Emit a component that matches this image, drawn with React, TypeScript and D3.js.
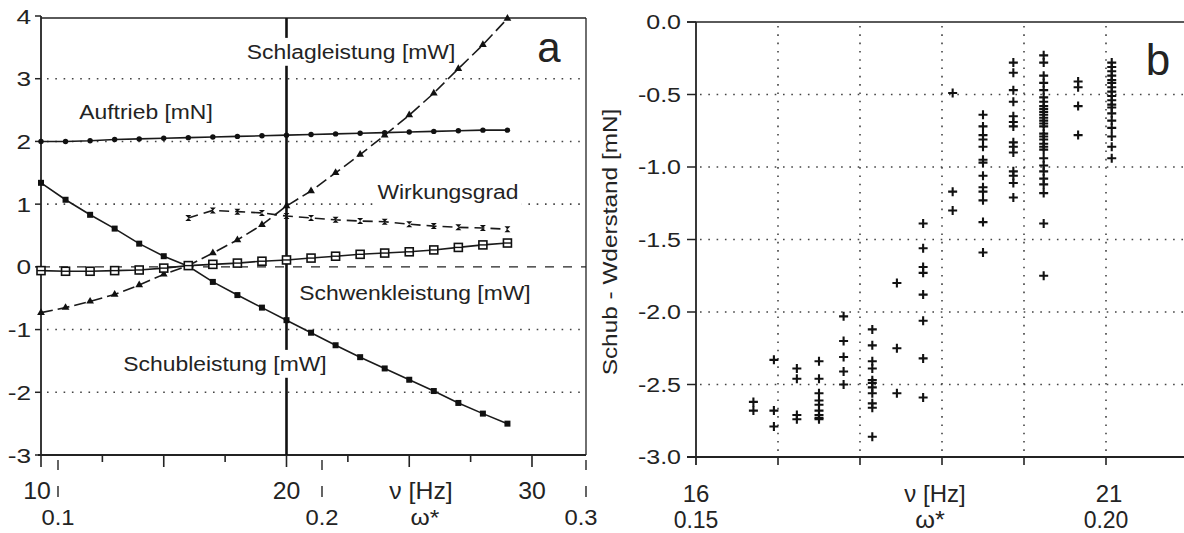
import { useEffect, useRef } from 'react';
import * as d3 from 'd3';

const W = 1184;
const H = 533;

// ---- panel a: values vs. frequency nu [Hz]
const freqA = [10, 11, 12, 13, 14, 15, 16, 17, 18, 19, 20, 21, 22, 23, 24, 25, 26, 27, 28, 29];
const auftrieb = [2.0, 2.0, 2.01, 2.03, 2.04, 2.05, 2.06, 2.07, 2.08, 2.09, 2.1, 2.11, 2.12, 2.13, 2.14, 2.15, 2.16, 2.17, 2.18, 2.18];
const schubleistung = [1.34, 1.07, 0.83, 0.61, 0.37, 0.17, 0.01, -0.24, -0.45, -0.65, -0.85, -1.05, -1.25, -1.44, -1.62, -1.8, -1.98, -2.17, -2.34, -2.5];
const schlagleistung = [-0.73, -0.65, -0.55, -0.44, -0.29, -0.12, 0.02, 0.22, 0.43, 0.67, 0.97, 1.21, 1.5, 1.79, 2.1, 2.42, 2.77, 3.16, 3.54, 3.96];
const schwenkleistung = [-0.06, -0.07, -0.07, -0.06, -0.05, -0.02, 0.02, 0.04, 0.06, 0.09, 0.11, 0.14, 0.17, 0.2, 0.22, 0.24, 0.27, 0.31, 0.35, 0.38];
const freqWirk = [16, 17, 18, 19, 20, 21, 22, 23, 24, 25, 26, 27, 28, 29];
const wirkungsgrad = [0.78, 0.9, 0.88, 0.86, 0.81, 0.78, 0.75, 0.73, 0.72, 0.68, 0.65, 0.63, 0.62, 0.6];

const yTicksA = [-3, -2, -1, 0, 1, 2, 3, 4];
const yGridA = [-2, -1, 1, 2, 3];
const nuMajorA = [10, 15, 20, 25, 30];
const nuMinorA = [12.5, 17.5, 22.5, 27.5];
const nuLabelsA = ['10', '20', '30'];
const omegaTicksA = [0.1, 0.2, 0.3];
const omegaLabelsA = ['0.1', '0.2', '0.3'];

// ---- panel b: Schub - Widerstand [mN], grouped by frequency
const freqB = [16.7, 16.95, 17.23, 17.5, 17.8, 18.15, 18.45, 18.77, 19.13, 19.5, 19.87, 20.24, 20.66, 21.07];
const schubB = [
  [-2.62, -2.68],
  [-2.33, -2.68, -2.79],
  [-2.39, -2.46, -2.71, -2.74],
  [-2.34, -2.46, -2.56, -2.61, -2.64, -2.68, -2.71, -2.73, -2.74],
  [-2.03, -2.2, -2.31, -2.41, -2.5],
  [-2.12, -2.23, -2.34, -2.39, -2.47, -2.49, -2.52, -2.56, -2.63, -2.66, -2.86],
  [-1.8, -2.25, -2.56],
  [-1.39, -1.56, -1.69, -1.73, -1.88, -2.06, -2.32, -2.59],
  [-0.49, -1.17, -1.3],
  [-0.64, -0.72, -0.78, -0.81, -0.86, -0.95, -0.97, -1.06, -1.14, -1.17, -1.23, -1.38, -1.59],
  [-0.28, -0.35, -0.47, -0.55, -0.65, -0.69, -0.72, -0.83, -0.86, -0.9, -1.03, -1.06, -1.11, -1.21],
  [-0.23, -0.28, -0.37, -0.42, -0.47, -0.52, -0.55, -0.58, -0.6, -0.62, -0.64, -0.66, -0.68, -0.7, -0.72,
    -0.77, -0.79, -0.81, -0.84, -0.86, -0.88, -0.94, -0.99, -1.03, -1.08, -1.12, -1.18, -1.39, -1.75],
  [-0.41, -0.45, -0.58, -0.78],
  [-0.28, -0.31, -0.34, -0.37, -0.4, -0.42, -0.45, -0.48, -0.51, -0.54, -0.57, -0.59, -0.63, -0.68, -0.73, -0.79, -0.86, -0.94],
];
const yTicksB = [0, -0.5, -1, -1.5, -2, -2.5, -3];
const xTicksB = [16, 17, 18, 19, 20, 21];

const INK = '#232323';
const FONT = '"Liberation Sans", Arial, sans-serif';

const App = () => {
  const svgRef = useRef<SVGSVGElement | null>(null);

  useEffect(() => {
    const svg = d3.select(svgRef.current);
    svg.selectAll('*').remove();
    svg.append('rect').attr('width', W).attr('height', H).attr('fill', '#fff');

    // text with a horizontal stretch (the scanned figure's lettering is wide)
    const txt = (g: any, x: number, y: number, s: string, size: number, anchor = 'middle', sx = 1, box = false) => {
      const t = g.append('g').attr('transform', `translate(${x},${y}) scale(${sx},1)`);
      const rect = box ? t.append('rect').attr('fill', '#fff') : null;
      const el = t.append('text')
        .attr('text-anchor', anchor)
        .attr('font-family', FONT)
        .attr('font-size', size)
        .attr('fill', INK)
        .text(s);
      if (rect) {
        const bb = el.node().getBBox();
        rect.attr('x', bb.x - 3).attr('y', bb.y - 2).attr('width', bb.width + 6).attr('height', bb.height + 4);
      }
      return el;
    };

    const dotted = '1.6,6.7';

    // ================= panel a =================
    const x = d3.scaleLinear().domain([10, 32.2]).range([41, 586]);
    const om = d3.scaleLinear().domain([0.1, 0.3]).range([58, 586]);
    const y = d3.scaleLinear().domain([-3, 4]).range([455, 16]);
    const a = svg.append('g');

    // grid
    a.selectAll('.ga').data(yGridA).enter().append('line')
      .attr('x1', x(10) + 6).attr('x2', 586).attr('y1', d => y(d)).attr('y2', d => y(d))
      .attr('stroke', '#444').attr('stroke-width', 1.6).attr('stroke-dasharray', dotted);
    a.append('line').attr('x1', x(10)).attr('x2', 586).attr('y1', y(0)).attr('y2', y(0))
      .attr('stroke', INK).attr('stroke-width', 1.3).attr('stroke-dasharray', '9,9');

    // frame
    a.append('line').attr('x1', x(10)).attr('x2', 586).attr('y1', 18).attr('y2', 18).attr('stroke', INK).attr('stroke-width', 1.3);
    a.append('line').attr('x1', 586).attr('x2', 586).attr('y1', 18).attr('y2', y(-3)).attr('stroke', INK).attr('stroke-width', 1.3);
    a.append('line').attr('x1', x(10)).attr('x2', x(10)).attr('y1', y(4)).attr('y2', y(-3)).attr('stroke', INK).attr('stroke-width', 1.8);
    a.append('line').attr('x1', x(10) - 3).attr('x2', 586).attr('y1', y(-3)).attr('y2', y(-3)).attr('stroke', INK).attr('stroke-width', 1.8);

    // vertical reference line at 20 Hz
    a.append('line').attr('x1', x(20)).attr('x2', x(20)).attr('y1', 18).attr('y2', y(-3))
      .attr('stroke', '#111').attr('stroke-width', 2.6);

    // y ticks
    a.selectAll('.yta').data(yTicksA).enter().append('line')
      .attr('x1', x(10) - 6).attr('x2', x(10)).attr('y1', d => y(d)).attr('y2', d => y(d))
      .attr('stroke', INK).attr('stroke-width', 1.5);
    yTicksA.forEach(v => txt(a, 31, y(v) + 7.5, String(v), 21, 'end', 1.25));

    // x ticks (nu major/minor, omega* marks)
    a.selectAll('.xma').data(nuMajorA).enter().append('line')
      .attr('x1', d => x(d)).attr('x2', d => x(d)).attr('y1', y(-3)).attr('y2', y(-3) + 12)
      .attr('stroke', INK).attr('stroke-width', 1.6);
    a.selectAll('.xmi').data(nuMinorA).enter().append('line')
      .attr('x1', d => x(d)).attr('x2', d => x(d)).attr('y1', y(-3)).attr('y2', y(-3) + 7)
      .attr('stroke', INK).attr('stroke-width', 1.6);
    a.selectAll('.oma').data(omegaTicksA).enter().append('line')
      .attr('x1', d => om(d)).attr('x2', d => om(d)).attr('y1', y(-3) + 5).attr('y2', y(-3) + 15)
      .attr('stroke', INK).attr('stroke-width', 1.4);
    a.selectAll('.omb').data(omegaTicksA).enter().append('line')
      .attr('x1', d => om(d)).attr('x2', d => om(d)).attr('y1', y(-3) + 31).attr('y2', y(-3) + 42)
      .attr('stroke', INK).attr('stroke-width', 1.4);
    nuLabelsA.forEach(s => txt(a, x(+s) - (s === '10' ? 4 : 0), 499, s, 23, 'middle', 1.08));
    txt(a, 421, 499, 'ν [Hz]', 23, 'middle', 1.08);
    omegaLabelsA.forEach((s, i) => txt(a, om(omegaTicksA[i]) - (i === 2 ? 5 : 0), 525, s, 22, 'middle', 1.08));
    txt(a, 425, 525, 'ω*', 22, 'middle', 1.12);

    // series labels (white boxes break the reference line)
    txt(a, 351, 59, 'Schlagleistung [mW]', 21, 'middle', 1.09, true);
    txt(a, 146, 119, 'Auftrieb [mN]', 21, 'middle', 1.09, true);
    txt(a, 448, 199, 'Wirkungsgrad', 21, 'middle', 1.09, true);
    txt(a, 415, 300, 'Schwenkleistung [mW]', 21, 'middle', 1.09, true);
    txt(a, 225, 371, 'Schubleistung [mW]', 21, 'middle', 1.09, true);
    txt(a, 549, 62, 'a', 42, 'middle', 1);

    const line = d3.line<[number, number]>().x(d => x(d[0])).y(d => y(d[1]));
    const pair = (fs: number[], vs: number[]) => fs.map((f, i) => [f, vs[i]] as [number, number]);

    const drawSeries = (fs: number[], vs: number[], dash: string | null, marker: (g: any) => void) => {
      const pts = pair(fs, vs);
      a.append('path').attr('d', line(pts)).attr('fill', 'none').attr('stroke', '#1a1a1a')
        .attr('stroke-width', 1.6).attr('stroke-dasharray', dash);
      const g = a.append('g');
      pts.forEach(p => {
        const m = g.append('g').attr('transform', `translate(${x(p[0])},${y(p[1])})`);
        marker(m);
      });
    };

    drawSeries(freqA, auftrieb, null, m => m.append('circle').attr('r', 2.7).attr('fill', '#111'));
    drawSeries(freqA, schubleistung, null, m => m.append('rect').attr('x', -3).attr('y', -3).attr('width', 6).attr('height', 6).attr('fill', '#111'));
    drawSeries(freqA, schlagleistung, '12,5', m => m.append('path').attr('d', d3.symbol(d3.symbolTriangle, 26)()).attr('fill', '#111'));
    drawSeries(freqWirk, wirkungsgrad, '10,6', m => m.append('path').attr('d', 'M-3,-3L3,-3L-3,3L3,3Z').attr('fill', '#111'));
    drawSeries(freqA, schwenkleistung, null, m => {
      m.append('rect').attr('x', -4).attr('y', -4).attr('width', 8).attr('height', 8)
        .attr('fill', '#fff').attr('stroke', '#111').attr('stroke-width', 1.6);
      m.append('line').attr('x1', -4).attr('x2', 4).attr('y1', 0).attr('y2', 0).attr('stroke', '#111').attr('stroke-width', 1.4);
    });

    // ================= panel b =================
    const xb = d3.scaleLinear().domain([16, 21]).range([696, 1106]);
    const yb = d3.scaleLinear().domain([-3, 0]).range([457, 22]);
    const b = svg.append('g');

    b.selectAll('.gbx').data(xTicksB.slice(1)).enter().append('line')
      .attr('x1', d => xb(d)).attr('x2', d => xb(d)).attr('y1', 26).attr('y2', yb(-3))
      .attr('stroke', '#444').attr('stroke-width', 1.6).attr('stroke-dasharray', dotted);
    b.selectAll('.gby').data(yTicksB.slice(1, -1)).enter().append('line')
      .attr('x1', xb(16) + 4).attr('x2', W).attr('y1', d => yb(d)).attr('y2', d => yb(d))
      .attr('stroke', '#444').attr('stroke-width', 1.6).attr('stroke-dasharray', dotted);

    b.append('line').attr('x1', 687).attr('x2', W).attr('y1', yb(0)).attr('y2', yb(0)).attr('stroke', INK).attr('stroke-width', 1.6);
    b.append('line').attr('x1', 687).attr('x2', W).attr('y1', yb(-3)).attr('y2', yb(-3)).attr('stroke', INK).attr('stroke-width', 1.8);
    b.append('line').attr('x1', xb(16)).attr('x2', xb(16)).attr('y1', yb(0)).attr('y2', yb(-3) + 8).attr('stroke', INK).attr('stroke-width', 1.8);

    b.selectAll('.ytb').data(yTicksB).enter().append('line')
      .attr('x1', 687).attr('x2', xb(16)).attr('y1', d => yb(d)).attr('y2', d => yb(d))
      .attr('stroke', INK).attr('stroke-width', 1.5);
    yTicksB.forEach(v => txt(b, 681, yb(v) + 7, d3.format('.1f')(v).replace('−', '-'), 20, 'end', 1.25));

    b.selectAll('.xtb').data(xTicksB.slice(1)).enter().append('line')
      .attr('x1', d => xb(d)).attr('x2', d => xb(d)).attr('y1', yb(-3)).attr('y2', yb(-3) + 8)
      .attr('stroke', INK).attr('stroke-width', 1.6);

    txt(b, xb(16), 502, '16', 24, 'middle', 1);
    txt(b, xb(16), 528, '0.15', 23, 'middle', 1);
    txt(b, 935, 502, 'ν [Hz]', 24, 'middle', 1);
    txt(b, 930, 528, 'ω*', 23, 'middle', 1.1);
    txt(b, xb(21) + 3, 502, '21', 24, 'middle', 1);
    txt(b, xb(21), 528, '0.20', 23, 'middle', 1);
    txt(b, 1158, 75, 'b', 44, 'middle', 1);

    b.append('text').attr('transform', 'translate(617,242) rotate(-90) scale(1.16,1)')
      .attr('text-anchor', 'middle').attr('font-family', FONT).attr('font-size', 21).attr('fill', INK)
      .text('Schub - Wderstand [mN]');

    const plus = b.append('g');
    freqB.forEach((f, i) => {
      schubB[i].forEach(v => {
        plus.append('path')
          .attr('d', `M${xb(f) - 4.5},${yb(v)}h9M${xb(f)},${yb(v) - 4.5}v9`)
          .attr('stroke', '#111').attr('stroke-width', 2.1);
      });
    });
  }, []);

  return (
    <svg ref={svgRef} width={W} height={H} style={{ position: 'absolute', left: 0, top: 0 }} />
  );
};

export default App;
